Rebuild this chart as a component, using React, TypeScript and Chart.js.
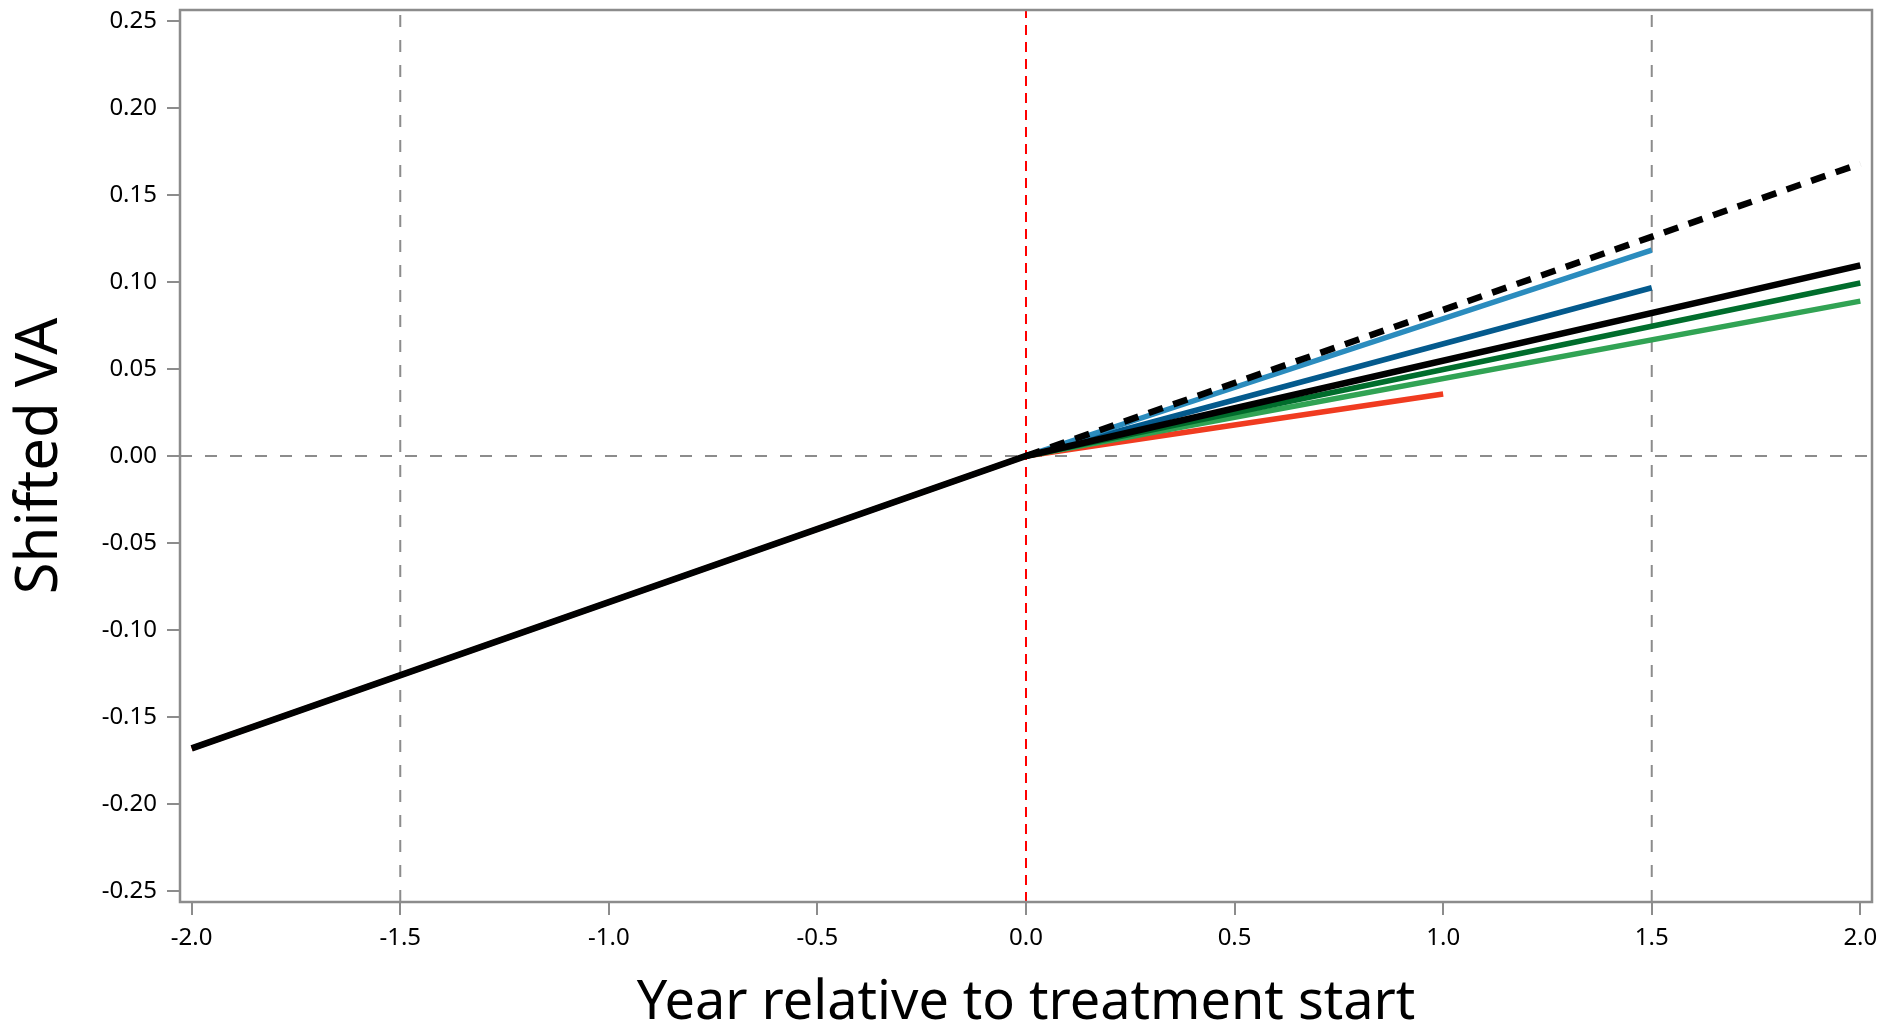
import React, { useEffect, useRef } from "react";
import { Chart, registerables } from "chart.js";

Chart.register(...registerables);

// ---- Axis ticks & ranges ----
const xTickValues = [-2.0, -1.5, -1.0, -0.5, 0.0, 0.5, 1.0, 1.5, 2.0];
const yTickValues = [-0.25, -0.2, -0.15, -0.1, -0.05, 0.0, 0.05, 0.1, 0.15, 0.2, 0.25];
const X_MIN = -2.028;
const X_MAX = 2.028;
const Y_MIN = -0.2563;
const Y_MAX = 0.2563;

// ---- Series data ----
const blackSolidX = [-2.0, 0.0, 2.0];
const blackSolidY = [-0.168, 0.0, 0.1095];
const blackDashedX = [0.0, 2.0];
const blackDashedY = [0.0, 0.168];
const lightBlueX = [0.0, 1.5];
const lightBlueY = [0.0, 0.1183];
const darkBlueX = [0.0, 1.5];
const darkBlueY = [0.0, 0.0967];
const darkGreenX = [0.0, 2.0];
const darkGreenY = [0.0, 0.0994];
const lightGreenX = [0.0, 2.0];
const lightGreenY = [0.0, 0.089];
const redX = [-2.0, 0.0, 1.0];
const redY = [-0.168, 0.0, 0.0356];

// ---- Reference lines ----
const vRefGrayX = [-1.5, 1.5];
const vRefRedX = [0.0];
const hRefGrayY = [0.0];

const GRAY = "#8c8c8c";

const pts = (xs: number[], ys: number[]) => xs.map((x, i) => ({ x, y: ys[i] }));

const framePlugin = {
  id: "frame",
  afterDraw(chart: any) {
    const { ctx, chartArea } = chart;
    ctx.save();
    ctx.strokeStyle = GRAY;
    ctx.lineWidth = 2.5;
    ctx.strokeRect(chartArea.left, chartArea.top, chartArea.right - chartArea.left, chartArea.bottom - chartArea.top);
    ctx.restore();
  },
};

export default function App() {
  const ref = useRef<HTMLCanvasElement | null>(null);

  useEffect(() => {
    if (!ref.current) return;

    const refLine = (data: { x: number; y: number }[], color: string, dash: number[], order: number) => ({
      data,
      borderColor: color,
      borderWidth: 2,
      borderDash: dash,
      pointRadius: 0,
      showLine: true,
      fill: false,
      order,
    });
    const dataLine = (data: { x: number; y: number }[], color: string, width: number, order: number, dash: number[] = []) => ({
      data,
      borderColor: color,
      borderWidth: width,
      borderDash: dash,
      borderCapStyle: "butt" as const,
      pointRadius: 0,
      showLine: true,
      fill: false,
      order,
    });

    const datasets: any[] = [];
    vRefGrayX.forEach((x) => datasets.push(refLine([{ x, y: Y_MIN }, { x, y: Y_MAX }], GRAY, [12, 13], 20)));
    hRefGrayY.forEach((y) => datasets.push(refLine([{ x: X_MIN, y }, { x: X_MAX, y }], GRAY, [12, 13], 20)));
    vRefRedX.forEach((x) => datasets.push(refLine([{ x, y: Y_MIN }, { x, y: Y_MAX }], "#ff0000", [10, 7], 19)));

    datasets.push(dataLine(pts(redX, redY), "#f03b20", 5.5, 8));
    datasets.push(dataLine(pts(lightGreenX, lightGreenY), "#31a354", 5.5, 7));
    datasets.push(dataLine(pts(darkGreenX, darkGreenY), "#006d2c", 5.5, 6));
    datasets.push(dataLine(pts(darkBlueX, darkBlueY), "#045a8d", 5.5, 5));
    datasets.push(dataLine(pts(lightBlueX, lightBlueY), "#2b8cbe", 5.5, 4));
    datasets.push(dataLine(pts(blackSolidX, blackSolidY), "#000000", 6.5, 2));
    datasets.push(dataLine(pts(blackDashedX, blackDashedY), "#000000", 6.5, 1, [15, 11]));

    const tickFont = { family: "'Noto Sans', sans-serif", size: 24 };

    const chart = new Chart(ref.current, {
      type: "scatter",
      data: { datasets },
      options: {
        animation: false,
        responsive: true,
        maintainAspectRatio: false,
        layout: { padding: { top: 10, right: 18, bottom: 0, left: 0 } },
        plugins: { legend: { display: false }, tooltip: { enabled: false } },
        elements: { line: { tension: 0 } },
        scales: {
          x: {
            type: "linear",
            min: X_MIN,
            max: X_MAX,
            afterBuildTicks: (scale: any) => {
              scale.ticks = xTickValues.map((v) => ({ value: v }));
            },
            afterFit: (scale: any) => {
              scale.height = 130;
              scale.paddingLeft = 0;
              scale.paddingRight = 0;
            },
            ticks: {
              color: "#000",
              font: tickFont,
              padding: 9,
              maxRotation: 0,
              autoSkip: false,
              callback: (v: any) => Number(v).toFixed(1),
            },
            grid: { drawOnChartArea: false, drawTicks: true, tickLength: 13, tickColor: GRAY, lineWidth: 2 },
            border: { display: false },
            title: {
              display: true,
              text: "Year relative to treatment start",
              color: "#000",
              font: { family: "'Noto Sans', sans-serif", size: 54, lineHeight: 1 },
              padding: { top: 0, bottom: 1 },
            },
          },
          y: {
            type: "linear",
            min: Y_MIN,
            max: Y_MAX,
            afterBuildTicks: (scale: any) => {
              scale.ticks = yTickValues.map((v) => ({ value: v }));
            },
            afterFit: (scale: any) => {
              scale.width = 180;
              scale.paddingTop = 0;
              scale.paddingBottom = 0;
            },
            ticks: {
              color: "#000",
              font: tickFont,
              padding: 10,
              autoSkip: false,
              callback: (v: any) => Number(v).toFixed(2),
            },
            grid: { drawOnChartArea: false, drawTicks: true, tickLength: 13, tickColor: GRAY, lineWidth: 2 },
            border: { display: false },
            title: {
              display: true,
              text: "Shifted VA",
              color: "#000",
              font: { family: "'Noto Sans', sans-serif", size: 58, lineHeight: 1 },
              padding: { top: 11, bottom: 0 },
            },
          },
        },
      },
      plugins: [framePlugin],
    });

    return () => chart.destroy();
  }, []);

  return (
    <div style={{ position: "fixed", left: 0, top: 0, width: 1890, height: 1032, background: "#fff" }}>
      <canvas ref={ref} />
    </div>
  );
}
